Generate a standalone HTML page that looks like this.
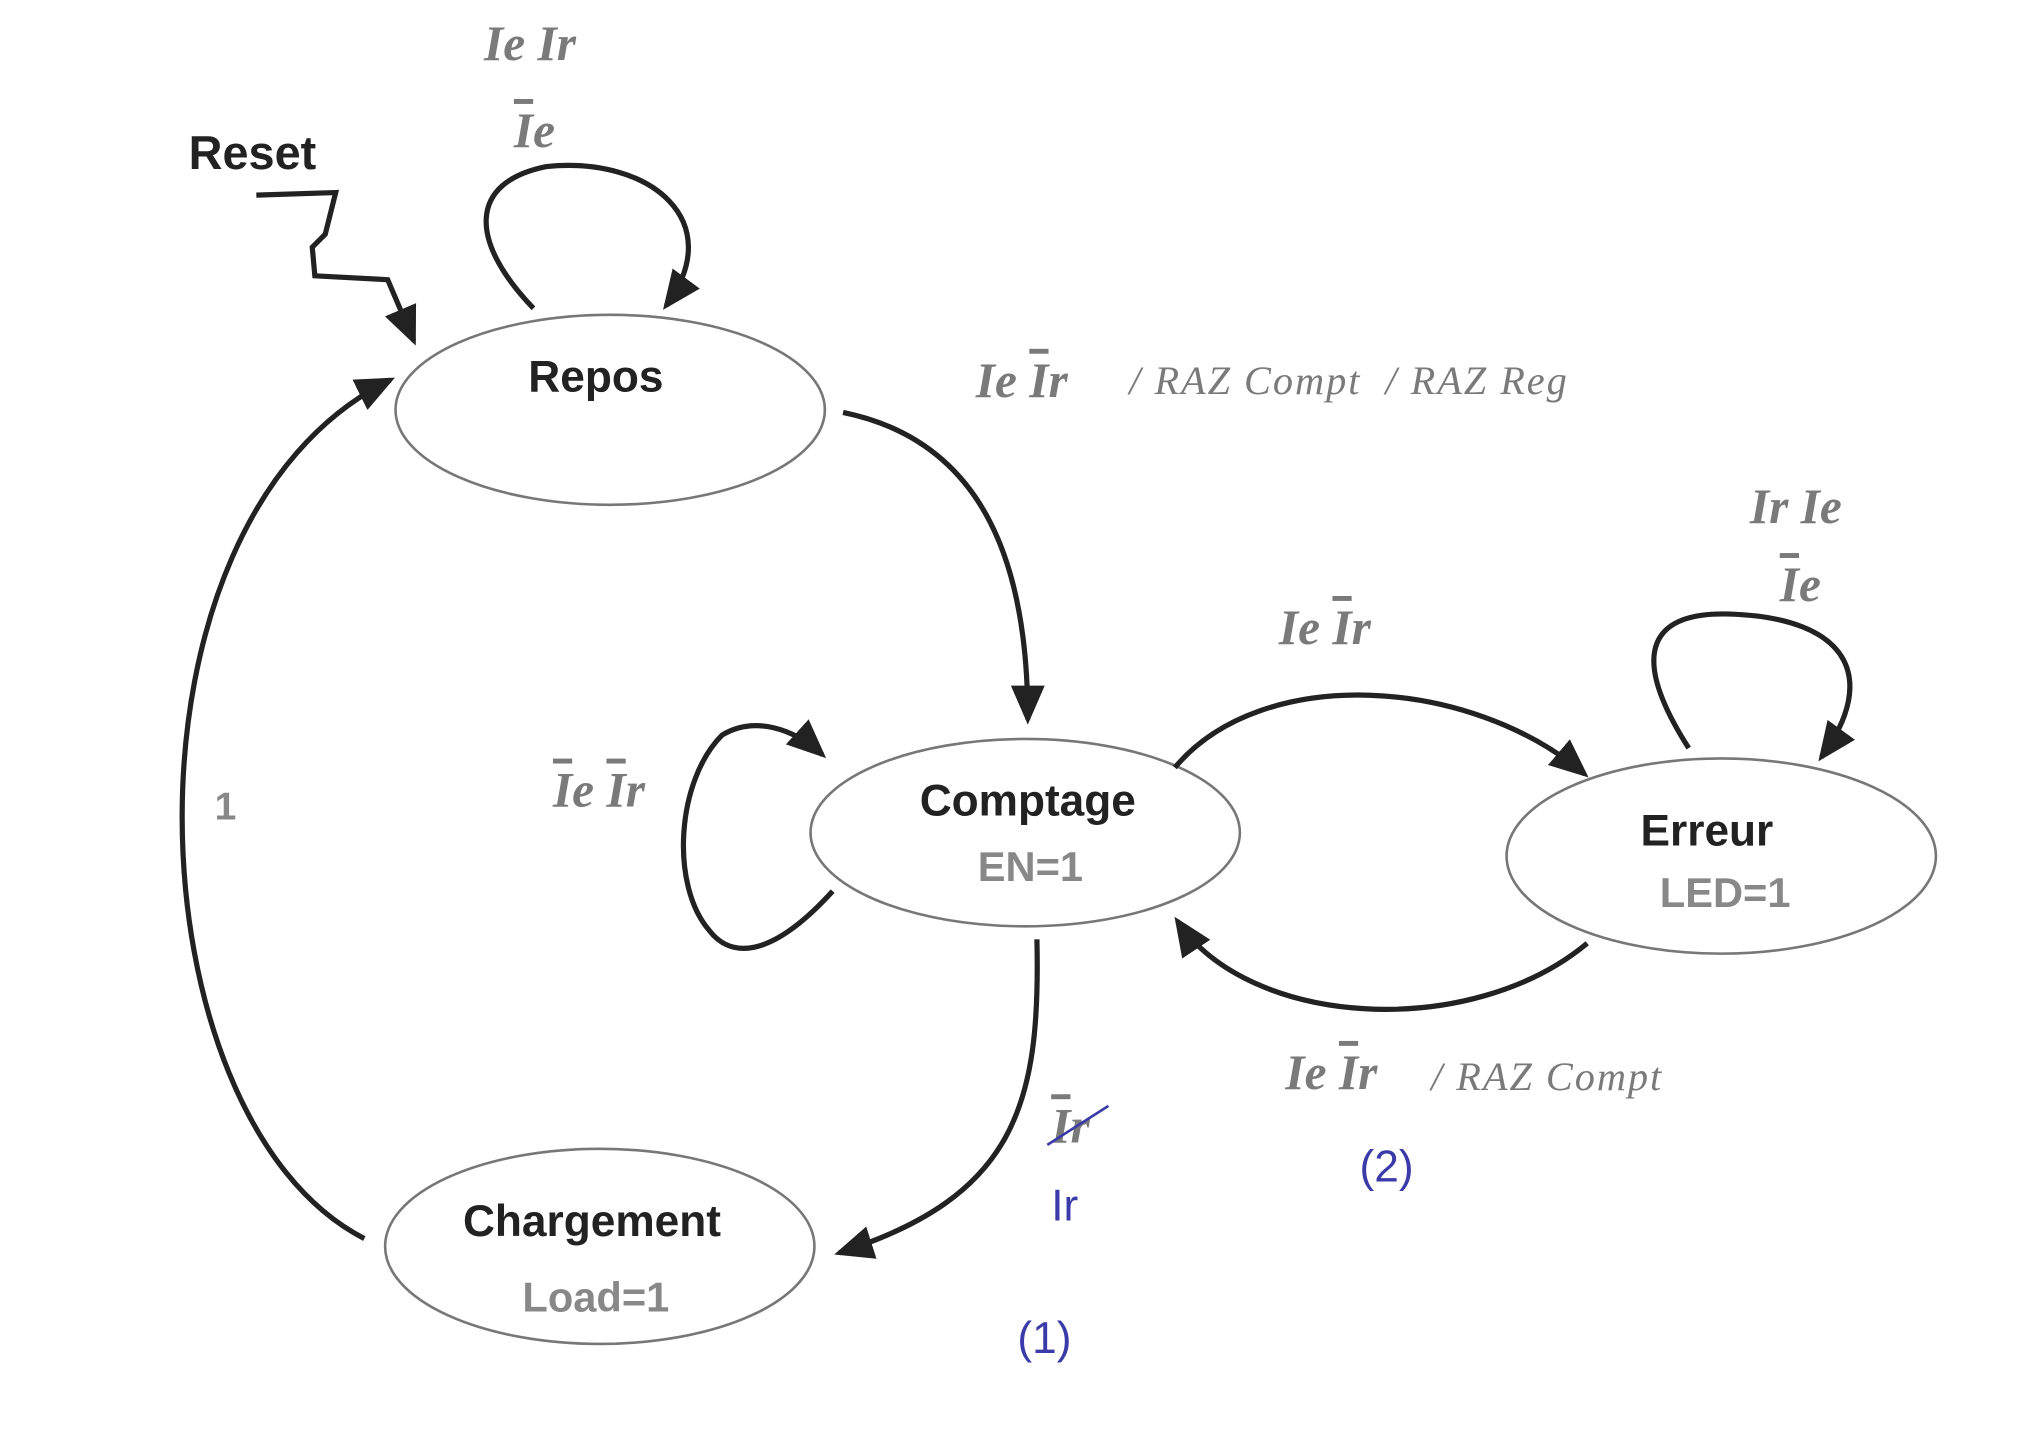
<!DOCTYPE html>
<html><head><meta charset="utf-8"><style>
html,body{margin:0;padding:0;background:#fff;}
svg{display:block;}
.lab{font-family:"Liberation Serif",serif;font-style:italic;font-weight:bold;fill:#7a7a7a;font-size:38px;}
.sm{font-family:"Liberation Serif",serif;font-style:italic;fill:#7a7a7a;font-size:31px;letter-spacing:1.5px;}
.st{font-family:"Liberation Sans",sans-serif;font-weight:bold;fill:#222;font-size:34px;text-anchor:middle;}
.out{font-family:"Liberation Sans",sans-serif;font-weight:bold;fill:#888;font-size:32px;text-anchor:middle;}
.hw{font-family:"Liberation Sans",sans-serif;fill:#3a3aa8;font-size:34px;}
.ov{text-decoration:overline;}
</style></head><body>
<svg width="2040" height="1435" viewBox="0 0 1568 1103" xmlns="http://www.w3.org/2000/svg">
<defs>
<marker id="b" markerWidth="30" markerHeight="30" refX="26" refY="15" orient="auto" markerUnits="userSpaceOnUse" viewBox="0 0 30 30"><path d="M0,2 L30,15 L0,28 z" fill="#222"/></marker></defs>
<g fill="none" stroke="#777" stroke-width="2">
<ellipse cx="469" cy="315" rx="165" ry="73"/>
<ellipse cx="788" cy="640" rx="165" ry="72"/>
<ellipse cx="1323" cy="658" rx="165" ry="75"/>
<ellipse cx="461" cy="958" rx="165" ry="75"/>
</g>
<g fill="none" stroke="#222" stroke-width="4" marker-end="url(#b)">
<path d="M410,237 C360,185 360,140 420,128 C500,120 560,170 512,235"/>
<path d="M197,150 L258,148 L250,180 L240,190 L242,212 L298,215 L318,262"/>
<path d="M648,317 C760,340 790,440 790,553"/>
<path d="M640,685 C590,740 560,735 545,715 C515,680 520,600 555,565 C580,550 610,560 632,580"/>
<path d="M903,590 C970,510 1130,520 1218,595"/>
<path d="M1220,725 C1130,800 960,790 905,708"/>
<path d="M1298,575 C1250,500 1270,470 1330,472 C1420,475 1445,520 1400,582"/>
<path d="M797,722 C800,850 780,920 645,963"/>
<path d="M280,952 C100,860 80,400 300,292"/>
</g>
<text x="145" y="130" font-family="Liberation Sans,sans-serif" font-weight="bold" font-size="36" fill="#222">Reset</text>
<text class="st" x="458" y="301">Repos</text>
<text class="st" x="790" y="627">Comptage</text>
<text class="out" x="792" y="677">EN=1</text>
<text class="st" x="1312" y="650">Erreur</text>
<text class="out" x="1326" y="697">LED=1</text>
<text class="st" x="455" y="950">Chargement</text>
<text class="out" x="458" y="1008">Load=1</text>
<text class="lab" x="372" y="46">Ie Ir</text>
<text class="lab" x="395" y="113"><tspan class="ov">I</tspan>e</text>
<text class="lab" x="750" y="305">Ie <tspan class="ov">I</tspan>r</text>
<text class="sm" x="868" y="303">/ RAZ Compt &#160;/ RAZ Reg</text>
<text class="lab" x="1345" y="402">Ir Ie</text>
<text class="lab" x="1368" y="462"><tspan class="ov">I</tspan>e</text>
<text class="lab" x="983" y="495">Ie <tspan class="ov">I</tspan>r</text>
<text class="lab" x="425" y="620"><tspan class="ov">I</tspan>e <tspan class="ov">I</tspan>r</text>
<text class="lab" x="988" y="837">Ie <tspan class="ov">I</tspan>r</text>
<text class="sm" x="1100" y="838">/ RAZ Compt</text>
<text x="165" y="630" font-family="Liberation Sans,sans-serif" font-weight="bold" font-size="30" fill="#888">1</text>
<text class="lab" x="808" y="878"><tspan class="ov">I</tspan>r</text>
<path d="M805,880 L852,850" stroke="#3a3aa8" stroke-width="2"/>
<text class="hw" x="808" y="938">Ir</text>
<text class="hw" x="1045" y="908">(2)</text>
<text class="hw" x="782" y="1040">(1)</text>
</svg>
</body></html>
